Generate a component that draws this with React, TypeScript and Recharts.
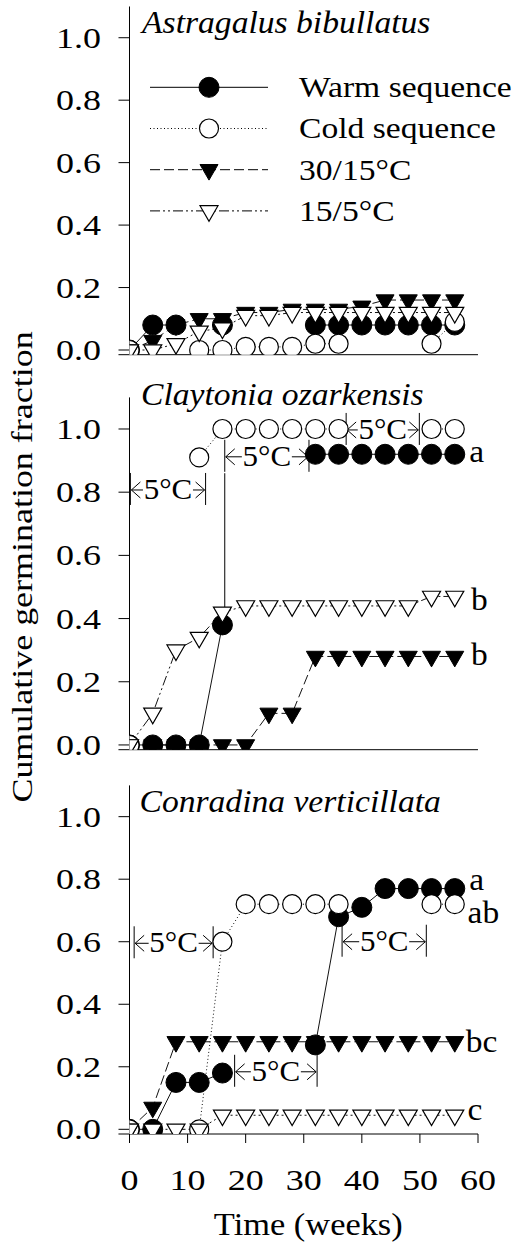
import React from 'react';
import { LineChart, Line, XAxis, YAxis, ReferenceLine, ReferenceDot, Legend } from 'recharts';

const FONT = "'Liberation Serif', 'Times New Roman', Times, serif";

// ---------- data ----------
const weeks = [0, 4, 8, 12, 16, 20, 24, 28, 32, 36, 40, 44, 48, 52, 56];
const xTicks = [0, 10, 20, 30, 40, 50, 60];
const yTicks = [0, 0.2, 0.4, 0.6, 0.8, 1.0];
const xDomain: [number, number] = [0, 60];
const yDomain: [number, number] = [-0.015, 1.1];

const seriesNames = ['Warm sequence', 'Cold sequence', '30/15°C', '15/5°C'];
const panelTitles = ['Astragalus bibullatus', 'Claytonia ozarkensis', 'Conradina verticillata'];

// Astragalus bibullatus
const astWarm = [0, 0.08, 0.08, null, 0.08, null, null, null, 0.08, 0.08, 0.08, 0.08, 0.08, 0.08, 0.08];
const astCold = [0, null, null, 0, 0, 0.01, 0.01, 0.01, 0.02, 0.02, null, null, null, 0.02, 0.09];
const ast3015 = [0, 0.03, 0.08, 0.1, 0.1, 0.12, 0.12, 0.13, 0.13, 0.13, 0.14, 0.16, 0.16, 0.16, 0.16];
const ast155 = [0, 0, 0.02, 0.06, 0.07, 0.11, 0.11, 0.12, 0.12, 0.12, 0.12, 0.12, 0.12, 0.12, 0.12];

// Claytonia ozarkensis
const claWarm = [0, 0, 0, 0, 0.38, null, null, null, 0.92, 0.92, 0.92, 0.92, 0.92, 0.92, 0.92];
const claCold = [0, null, null, 0.91, 1, 1, 1, 1, 1, 1, null, null, null, 1, 1];
const cla3015 = [0, 0, 0, 0, 0, 0, 0.1, 0.1, 0.28, 0.28, 0.28, 0.28, 0.28, 0.28, 0.28];
const cla155 = [0, 0.1, 0.3, 0.34, 0.42, 0.44, 0.44, 0.44, 0.44, 0.44, 0.44, 0.44, 0.44, 0.47, 0.47];

// Conradina verticillata
const conWarm = [0, 0, 0.15, 0.15, 0.18, null, null, null, 0.27, 0.68, 0.71, 0.77, 0.77, 0.77, 0.77];
const conCold = [0, null, null, 0, 0.6, 0.72, 0.72, 0.72, 0.72, 0.72, null, null, null, 0.72, 0.72];
const con3015 = [0, 0.07, 0.28, 0.28, 0.28, 0.28, 0.28, 0.28, 0.28, 0.28, 0.28, 0.28, 0.28, 0.28, 0.28];
const con155 = [0, 0, 0, 0, 0.045, 0.045, 0.045, 0.045, 0.045, 0.045, 0.045, 0.045, 0.045, 0.045, 0.045];

// 5°C periods (weeks from, to; level of arrow)
const claBrackets = [
  { from: 0.15, to: 13.1, y: 0.807 },
  { from: 16.4, to: 30.9, y: 0.912 },
  { from: 37.3, to: 49.9, y: 0.997 },
];
const claConnectors = [{ x: 16.4, from: 0.415, to: 0.86 }];
const conBrackets = [
  { from: 0.8, to: 14.4, y: 0.595 },
  { from: 18.1, to: 32.3, y: 0.184 },
  { from: 36.6, to: 51.1, y: 0.6 },
];

// significance letters
const claLetters = [
  { text: 'a', x: 58.5, y: 0.896 },
  { text: 'b', x: 58.8, y: 0.427 },
  { text: 'b', x: 58.8, y: 0.253 },
];
const conLetters = [
  { text: 'a', x: 58.5, y: 0.766 },
  { text: 'ab', x: 58.2, y: 0.66 },
  { text: 'bc', x: 57.9, y: 0.247 },
  { text: 'c', x: 58.2, y: 0.03 },
];

// ---------- styles ----------
const seriesStyles = [
  { key: 'warm', marker: 'circleFilled', dash: undefined as string | undefined },
  { key: 'cold', marker: 'circleOpen', dash: '1 2.5' },
  { key: 't3015', marker: 'triFilled', dash: '10 4' },
  { key: 't155', marker: 'triOpen', dash: '10 3 2 3 2 3' },
];

const sx = (k: number, origin: string): any => ({
  transform: `scaleX(${k})`,
  transformBox: 'fill-box',
  transformOrigin: origin,
});

const triPoints = (cx: number, cy: number) =>
  `${cx - 9},${cy - 5.2} ${cx + 9},${cy - 5.2} ${cx},${cy + 10.4}`;

function Marker({ kind, cx, cy }: { kind: string; cx: number; cy: number }) {
  if (kind === 'circleFilled') return <circle cx={cx} cy={cy} r={10} fill="#000" stroke="#000" strokeWidth={1} />;
  if (kind === 'circleOpen') return <circle cx={cx} cy={cy} r={9.5} fill="#fff" stroke="#000" strokeWidth={1.2} />;
  if (kind === 'triFilled') return <polygon points={triPoints(cx, cy)} fill="#000" stroke="#000" strokeWidth={1} />;
  return <polygon points={triPoints(cx, cy)} fill="#fff" stroke="#000" strokeWidth={1.2} />;
}

const makeDot = (kind: string) => (props: any) => {
  const { cx, cy, index, value } = props;
  if (value == null || cx == null || cy == null || Number.isNaN(cx) || Number.isNaN(cy)) {
    return <g key={`e${index}`} />;
  }
  return (
    <g key={`d${index}`}>
      <Marker kind={kind} cx={cx} cy={cy} />
    </g>
  );
};

const renderYTick = (props: any) => {
  const { x, y, payload } = props;
  return (
    <text x={x} y={y + 10} textAnchor="end" fontFamily={FONT} fontSize={30} fill="#000" style={sx(1.2, 'right center')}>
      {Number(payload.value).toFixed(1)}
    </text>
  );
};

const renderXTick = (props: any) => {
  const { x, y, payload } = props;
  return (
    <text x={x} y={y + 47} textAnchor="middle" fontFamily={FONT} fontSize={30} fill="#000" style={sx(1.2, 'center')}>
      {payload.value}
    </text>
  );
};

const BracketShape = (p: any) => {
  const { x1, y1, x2 } = p;
  const y = y1;
  const cx = (x1 + x2) / 2;
  const half = 25;
  const tl = cx - half;
  const tr = cx + half;
  return (
    <g>
      <g stroke="#000" strokeWidth={1} fill="none">
        <line x1={x1} y1={y - 17} x2={x1} y2={y + 15} />
        <line x1={x2} y1={y - 17} x2={x2} y2={y + 15} />
        <polyline points={`${x1 + 10},${y - 8} ${x1 + 1},${y} ${x1 + 10},${y + 8}`} />
        <polyline points={`${x2 - 10},${y - 8} ${x2 - 1},${y} ${x2 - 10},${y + 8}`} />
        {tl > x1 + 2 && <line x1={x1 + 1} y1={y} x2={tl} y2={y} />}
        {tr < x2 - 2 && <line x1={tr} y1={y} x2={x2 - 1} y2={y} />}
      </g>
      <text x={cx} y={y + 9} textAnchor="middle" fontFamily={FONT} fontSize={29} fill="#000" style={sx(1.07, 'center')}>
        5°C
      </text>
    </g>
  );
};

const LegendContent = () => (
  <svg width={380} height={180} style={{ overflow: 'visible' }}>
    {seriesNames.map((name, i) => {
      const y = 27.3 + i * 41.2;
      const st = seriesStyles[i];
      return (
        <g key={name}>
          <line x1={10} x2={128} y1={y} y2={y} stroke="#000" strokeWidth={1} strokeDasharray={st.dash} />
          <Marker kind={st.marker} cx={69} cy={y} />
          <text x={159} y={y + 10} fontFamily={FONT} fontSize={30} fill="#000" style={sx(1.12, 'left center')}>
            {name}
          </text>
        </g>
      );
    })}
  </svg>
);

const buildRows = (a: any[], b: any[], c: any[], d: any[]) =>
  weeks.map((w, i) => ({ week: w, warm: a[i], cold: b[i], t3015: c[i], t155: d[i] }));

const panels = [
  { rows: buildRows(astWarm, astCold, ast3015, ast155), top: 0, marginTop: 6.5, plotH: 348.2, axisH: 12, xLabels: false, brackets: [] as any[], connectors: [] as any[], letters: [] as any[], legend: true },
  { rows: buildRows(claWarm, claCold, cla3015, cla155), top: 380, marginTop: 17.4, plotH: 352.3, axisH: 12, xLabels: false, brackets: claBrackets, connectors: claConnectors, letters: claLetters, legend: false },
  { rows: buildRows(conWarm, conCold, con3015, con155), top: 770, marginTop: 15.4, plotH: 348.6, axisH: 113, xLabels: true, brackets: conBrackets, connectors: [] as any[], letters: conLetters, legend: false },
];

function Panel(props: any) {
  const { rows, top, marginTop, plotH, axisH, xLabels, brackets, connectors, letters, legend } = props;
  return (
    <div style={{ position: 'absolute', left: 0, top }}>
      <LineChart
        width={514}
        height={marginTop + plotH + axisH}
        data={rows}
        margin={{ top: marginTop, right: 36, bottom: 0, left: 69.5 }}
      >
        <XAxis
          type="number"
          dataKey="week"
          domain={xDomain}
          ticks={xTicks}
          allowDataOverflow
          interval={0}
          height={axisH}
          axisLine={{ stroke: '#000', strokeWidth: 1 }}
          tickLine={{ stroke: '#000', strokeWidth: 1 }}
          tickSize={9}
          tickMargin={0}
          tick={xLabels ? renderXTick : false}
        />
        <YAxis
          type="number"
          domain={yDomain}
          ticks={yTicks}
          allowDataOverflow
          interval={0}
          width={60}
          axisLine={{ stroke: '#000', strokeWidth: 1 }}
          tickLine={{ stroke: '#000', strokeWidth: 1 }}
          tickSize={11}
          tickMargin={17.5}
          tick={renderYTick}
        />
        <ReferenceLine
          segment={[{ x: -1.9, y: yDomain[0] }, { x: 0, y: yDomain[0] }]}
          ifOverflow="visible"
          stroke="#000"
          strokeWidth={1}
        />
        {connectors.map((c: any, i: number) => (
          <ReferenceLine key={`c${i}`} segment={[{ x: c.x, y: c.from }, { x: c.x, y: c.to }]} ifOverflow="visible" stroke="#000" strokeWidth={1} />
        ))}
        {brackets.map((b: any, i: number) => (
          <ReferenceLine
            key={`b${i}`}
            segment={[{ x: b.from, y: b.y }, { x: b.to, y: b.y }]}
            ifOverflow="visible"
            stroke="#000"
            shape={(p: any) => <BracketShape {...p} />}
          />
        ))}
        {seriesStyles.map((st, i) => (
          <Line
            key={st.key}
            name={seriesNames[i]}
            dataKey={st.key}
            type="linear"
            stroke="#111"
            strokeWidth={1}
            strokeDasharray={st.dash}
            dot={makeDot(st.marker)}
            activeDot={false}
            isAnimationActive={false}
          />
        ))}
        {letters.map((l: any, i: number) => (
          <ReferenceDot
            key={`l${i}`}
            x={l.x}
            y={l.y}
            r={1}
            ifOverflow="visible"
            shape={(p: any) => (
              <text x={p.cx} y={p.cy} fontFamily={FONT} fontSize={31} fill="#000" style={sx(1.08, 'left center')}>
                {l.text}
              </text>
            )}
          />
        ))}
        {legend && (
          <Legend
            layout="vertical"
            align="center"
            verticalAlign="middle"
            wrapperStyle={{ position: 'absolute', left: 140, top: 60, width: 380, height: 180 }}
            content={() => <LegendContent />}
          />
        )}
      </LineChart>
    </div>
  );
}

const titlePos = [
  { x: 142, y: 33 },
  { x: 141, y: 404.7 },
  { x: 139.5, y: 811.7 },
];

export default function App() {
  return (
    <div style={{ position: 'absolute', left: 0, top: 0, width: 514, height: 1247, background: '#fff', overflow: 'hidden' }}>
      {panels.map((p, i) => (
        <Panel key={i} {...p} />
      ))}
      <svg width={514} height={1247} style={{ position: 'absolute', left: 0, top: 0, pointerEvents: 'none', overflow: 'visible' }}>
        {panelTitles.map((t, i) => (
          <text key={t} x={titlePos[i].x} y={titlePos[i].y} fontFamily={FONT} fontStyle="italic" fontSize={32} fill="#000" style={sx(1.05, 'left center')}>
            {t}
          </text>
        ))}
        <g transform="rotate(-90 31.7 567)">
          <text x={31.7} y={567} textAnchor="middle" fontFamily={FONT} fontSize={29} fill="#000" style={sx(1.24, 'center')}>
            Cumulative germination fraction
          </text>
        </g>
        <text x={308.3} y={1235} textAnchor="middle" fontFamily={FONT} fontSize={31} fill="#000" style={sx(1.11, 'center')}>
          Time (weeks)
        </text>
      </svg>
    </div>
  );
}
